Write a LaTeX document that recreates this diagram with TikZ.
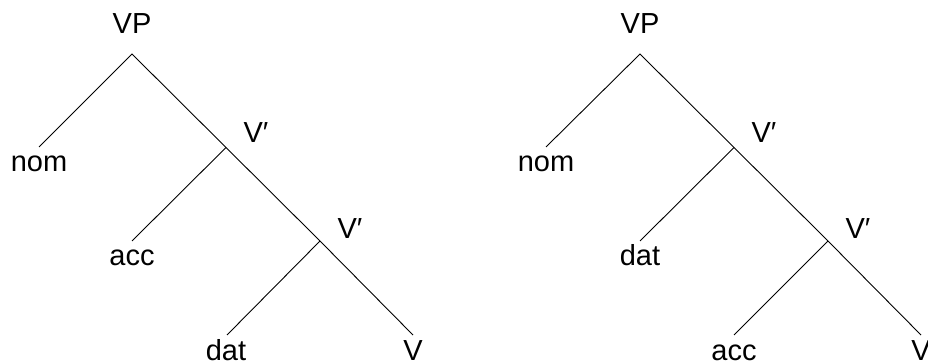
\documentclass[tikz,border=0pt]{standalone}
\usepackage{fontspec}
\setmainfont{Liberation Sans}
\begin{document}
\begin{tikzpicture}[x=1pt,y=-1pt]
\tikzset{
  lab/.style={anchor=base, inner sep=0pt, font=\fontsize{29}{35}\selectfont},
  branch/.style={line width=0.9pt, black}
}
\useasboundingbox (0,0) rectangle (928,363);

% ---- left tree: nom > acc > dat > V ----
\coordinate (La) at (132,54);
\coordinate (Lnom) at (39,147);
\coordinate (Lb) at (226,147.5);
\coordinate (Lacc) at (132,241);
\coordinate (Lc) at (320,241);
\coordinate (Ldat) at (227,335);
\coordinate (Lv) at (413,335);
\draw[branch] (Lnom) -- (La) -- (Lb) -- (Lc) -- (Lv);
\draw[branch] (Lb) -- (Lacc);
\draw[branch] (Lc) -- (Ldat);
\node[lab] (LVP) at (132,33.3) {VP};
\node[lab] (Lnomtxt) at (39,172) {nom};
\node[lab] (LV1) at (256,143) {V′};
\node[lab] (Lacctxt) at (132,265.5) {acc};
\node[lab] (LV2) at (350,238.5) {V′};
\node[lab] (Ldattxt) at (226,360) {dat};
\node[lab] (LVtxt) at (413,360) {V};

% ---- right tree: nom > dat > acc > V ----
\begin{scope}[xshift=508pt]
\coordinate (Ra) at (132,54);
\coordinate (Rnom) at (38,147);
\coordinate (Rb) at (226,147.5);
\coordinate (Rdat) at (132,241);
\coordinate (Rc) at (320,241);
\coordinate (Racc) at (226,335);
\coordinate (Rv) at (413,335);
\draw[branch] (Rnom) -- (Ra) -- (Rb) -- (Rc) -- (Rv);
\draw[branch] (Rb) -- (Rdat);
\draw[branch] (Rc) -- (Racc);
\node[lab] (RVP) at (132,33.3) {VP};
\node[lab] (Rnomtxt) at (38,172) {nom};
\node[lab] (RV1) at (256,143) {V′};
\node[lab] (Rdattxt) at (132,265.5) {dat};
\node[lab] (RV2) at (350,238.5) {V′};
\node[lab] (Racctxt) at (226,360) {acc};
\node[lab] (RVtxt) at (413,360) {V};
\end{scope}
\end{tikzpicture}
\end{document}
